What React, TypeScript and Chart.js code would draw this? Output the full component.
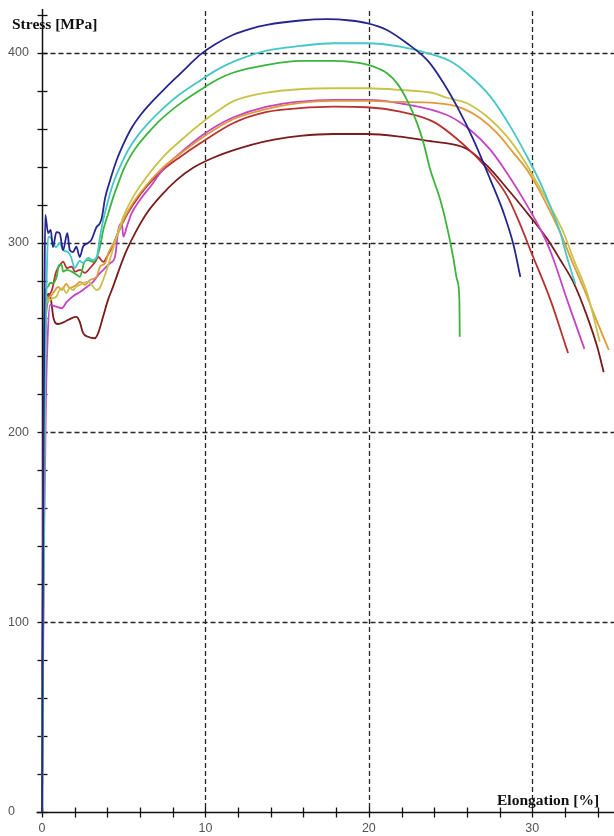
import React, { useEffect, useRef } from "react";
import { Chart, registerables } from "chart.js";
Chart.register(...registerables);

type P = [number, number];

// axis settings
const xTickLabels = [0, 10, 20, 30];
const yTickLabels = [0, 100, 200, 300, 400];
const xMinorStep = 2;
const yMinorStep = 20;
const xMax = 35;
const yMax = 422;
const xTitle = "Elongation [%]";
const yTitle = "Stress [MPa]";

// series: [elongation %, stress MPa]
const navy: P[] = [[0,0],[0.03,59],[0.09,190.7],[0.15,269.8],[0.2,314.6],[0.37,305],[0.53,306.7],[0.67,297.6],[0.88,305.5],[1.08,305],[1.29,296],[1.55,305],[1.7,296],[1.9,295],[2.1,297.8],[2.31,292.4],[2.51,297.8],[2.82,299.8],[3.02,301.4],[3.33,308.1],[3.53,310],[3.66,313],[3.86,323.4],[4.16,332.6],[4.57,343.5],[4.96,351.5],[5.49,360.5],[6.1,368],[6.71,374],[7.5,381],[8.22,387],[9.0,393.5],[9.68,399],[10.6,404.5],[11.7,409.5],[12.7,412.5],[13.76,414.7],[15.8,417],[17.43,417.7],[18.86,417],[19.88,415.6],[21.1,412],[22.33,405],[23.56,396.2],[24.37,386.7],[25.4,371.6],[26.41,354],[27.44,333],[28.25,315.5],[28.86,298.5],[29.27,281.9]];
const cyan: P[] = [[0,0],[0.06,85.4],[0.15,190.7],[0.24,259.2],[0.29,281.9],[0.37,303],[0.55,302.5],[0.67,299.8],[0.86,297.6],[1.08,299.8],[1.29,296],[1.59,295],[1.78,292.4],[2.0,286.6],[2.31,290.3],[2.51,289.3],[2.82,291.9],[3.12,290.8],[3.35,292.4],[3.55,303],[3.75,312],[4.06,322.6],[4.37,331.5],[4.78,340],[5.29,349],[5.8,355.7],[6.41,362],[7.2,369],[8.33,377.5],[9.68,385.4],[10.7,391],[11.72,395.3],[13.76,401.1],[15.8,403.6],[17.84,405],[19.88,405],[21.92,403.2],[23.96,398.9],[24.99,395.5],[26.0,389.2],[27.44,376.9],[28.66,361.1],[29.68,345.3],[30.5,331.3],[31.11,318.9],[31.72,305],[32.1,293],[32.64,278]];
const green: P[] = [[0,0],[0.06,85.4],[0.12,190.7],[0.17,271.5],[0.37,276.8],[0.49,278.7],[0.67,278.7],[0.9,282],[1.04,288.2],[1.21,288.2],[1.29,284.7],[1.51,285.6],[1.82,284.7],[2.13,283],[2.31,282],[2.61,290],[2.82,290.8],[3.12,289.8],[3.37,292.6],[3.55,297.9],[3.75,306.7],[4.06,315.5],[4.37,324.2],[4.67,331.3],[4.98,338.3],[5.39,345.3],[5.9,351.8],[6.41,357],[7.23,364.5],[8.57,374],[9.68,380.4],[10.7,385.8],[11.72,389.6],[13.76,393.6],[15.8,395.7],[17.84,395.7],[19.27,394.8],[20.29,392.7],[21.11,389.2],[21.72,384],[22.33,375.2],[22.95,362.9],[23.35,352.3],[23.76,338.3],[24.37,322.5],[24.78,308.4],[25.19,290.8],[25.4,280.3],[25.54,269.8],[25.56,250.4]];
const yellow: P[] = [[0,0],[0.06,85.4],[0.15,190.7],[0.21,254],[0.26,268],[0.47,269.8],[0.67,270.7],[0.88,271.5],[1.08,275],[1.29,276],[1.49,273.3],[1.7,276],[1.9,275],[2.1,276.8],[2.31,277.7],[2.51,278.6],[2.82,279.4],[3.12,276.8],[3.33,275],[3.53,276],[3.74,280.3],[3.96,285.6],[4.27,294.4],[4.57,303.1],[4.98,313.7],[5.59,324.2],[6.41,334.7],[7.43,345.3],[8.45,353.5],[9.68,362.5],[10.7,369],[11.72,374.5],[13.76,379],[15.8,380.8],[17.84,381.3],[19.88,381.3],[21.92,380.4],[23.96,378.7],[24.78,376.3],[26.0,373.4],[27.23,366.4],[28.46,355.8],[29.48,343.5],[30.3,331.3],[31.11,318.9],[31.93,304.9],[32.54,290.9],[33.36,273.3],[34.13,247.8]];
const orange: P[] = [[0,0],[0.06,85.4],[0.12,174.9],[0.18,227.6],[0.24,259.2],[0.34,269.8],[0.49,271.4],[0.73,274],[0.98,276.6],[1.22,275],[1.47,278.2],[1.71,276.1],[2.02,277.2],[2.33,279.3],[2.63,277.7],[2.94,280.3],[3.35,282.1],[3.55,287.3],[3.86,289.1],[4.06,294.4],[4.37,299.6],[4.67,304.9],[4.98,311.9],[5.57,321],[6.43,330.6],[7.41,339.6],[8.45,346.7],[9.68,354.6],[11.72,365.1],[13.76,370.4],[15.8,373.6],[17.84,374.6],[19.88,374.6],[21.92,374.1],[23.96,373.6],[24.99,372.5],[25.8,370.4],[26.82,365.5],[27.85,357.6],[28.86,347.1],[29.68,338.3],[30.3,329.5],[30.99,318.2],[31.72,305.1],[32.4,290.8],[33.19,275],[33.87,260.3],[34.68,243.4]];
const magenta: P[] = [[0,0],[0.12,138],[0.24,217.1],[0.34,248.7],[0.49,267.1],[0.9,266.2],[1.21,265.4],[1.51,268.7],[1.92,271.9],[2.33,274],[2.74,276.6],[3.14,279.4],[3.45,283],[3.75,285.6],[4.16,289.1],[4.47,292.6],[4.67,306.7],[4.88,310.2],[4.98,303.1],[5.19,308.4],[5.49,315.5],[6.0,322.6],[6.72,330.5],[7.43,339],[8.45,347.1],[9.68,355.7],[10.7,361.5],[11.72,366],[13.76,371.6],[15.8,374.3],[17.84,375.2],[19.88,375.2],[21.92,373.4],[24.78,367.2],[26.21,359.3],[27.44,348.8],[28.46,336.5],[29.48,322.5],[30.3,310.2],[30.91,299.6],[31.31,290.8],[32.13,269.8],[33.19,244]];
const red: P[] = [[0,0],[0.06,111.7],[0.12,206.5],[0.21,254],[0.37,269.8],[0.61,275],[0.86,284.5],[1.1,288.2],[1.3,290],[1.51,286.6],[1.82,287.3],[2.02,284.7],[2.33,285.6],[2.63,284],[2.94,286.6],[3.25,289.8],[3.45,292.4],[3.74,289.8],[4.04,293.5],[4.35,298.8],[4.65,305.2],[5.02,311.9],[5.57,319.9],[6.43,329.8],[7.41,338.3],[8.45,345.1],[9.68,352.3],[11.72,363],[13.76,368.8],[15.8,370.8],[17.84,371.6],[19.88,371.3],[21.92,369],[23.96,363.6],[26.0,350],[27.23,339],[28.46,324.6],[29.27,309.3],[29.88,296.1],[31.11,269.8],[32.19,241.8]];
const brown: P[] = [[0,0],[0.04,111.7],[0.09,217],[0.15,259.2],[0.24,269.8],[0.4,272.9],[0.55,269.8],[0.7,260.3],[0.98,257.1],[1.39,258.3],[1.79,260.1],[2.1,260.8],[2.31,258.2],[2.51,252.4],[2.82,250.4],[3.23,249.6],[3.43,252.2],[3.74,261],[4.04,269.8],[4.35,276.8],[4.78,287.2],[5.19,296.1],[5.8,306.7],[6.41,315.5],[7.23,324.2],[8.25,333],[9.27,339.5],[10.3,344],[11.5,348],[12.8,351.5],[14.2,354.2],[15.8,356.2],[17.84,357.2],[19.88,357.2],[21.92,355.8],[23.96,353.2],[24.99,352],[26.0,349.3],[27.23,340.5],[28.46,328.5],[29.93,313],[30.91,302],[31.72,290.8],[32.54,278.6],[33.36,261],[33.97,245.2],[34.37,231.7]];

const seriesList = [
  { data: navy, color: "#25258f" },
  { data: cyan, color: "#46c6c6" },
  { data: green, color: "#3cb43c" },
  { data: yellow, color: "#c9c24a" },
  { data: orange, color: "#e09a3a" },
  { data: magenta, color: "#c444c4" },
  { data: red, color: "#b83030" },
  { data: brown, color: "#7a1c1c" },
];

const numFont = "12.5px 'Liberation Sans', Arial, sans-serif";
const titleFont = "bold 15.5px 'Liberation Serif', 'Times New Roman', serif";

const decor = {
  id: "decor",
  beforeDatasetsDraw(chart: any) {
    const { ctx, chartArea: a } = chart;
    const xs = chart.scales.x;
    const ys = chart.scales.y;
    const x0 = Math.round(xs.getPixelForValue(0)) + 0.5;
    const y0 = Math.round(ys.getPixelForValue(0)) + 0.5;
    ctx.save();
    ctx.strokeStyle = "#262626";
    ctx.lineWidth = 1.3;
    ctx.setLineDash([5, 3]);
    for (const v of xTickLabels) {
      if (v <= 0) continue;
      const p = Math.round(xs.getPixelForValue(v)) + 0.5;
      ctx.beginPath();
      ctx.moveTo(p, a.top);
      ctx.lineTo(p, y0);
      ctx.stroke();
    }
    for (const v of yTickLabels) {
      if (v <= 0) continue;
      const p = Math.round(ys.getPixelForValue(v)) + 0.5;
      ctx.beginPath();
      ctx.moveTo(x0, p);
      ctx.lineTo(a.right, p);
      ctx.stroke();
    }
    ctx.setLineDash([]);
    ctx.strokeStyle = "#111";
    ctx.lineWidth = 1.5;
    ctx.beginPath();
    ctx.moveTo(x0 - 6, y0);
    ctx.lineTo(a.right, y0);
    ctx.moveTo(x0, y0);
    ctx.lineTo(x0, a.top - 2);
    ctx.stroke();
    ctx.lineWidth = 1.3;
    for (let v = 0; v <= xMax + 1e-6; v += xMinorStep) {
      const p = Math.round(xs.getPixelForValue(v)) + 0.5;
      ctx.beginPath();
      ctx.moveTo(p, y0 - 5);
      ctx.lineTo(p, y0 + 5);
      ctx.stroke();
    }
    for (let v = 0; v <= yMax + 1e-6; v += yMinorStep) {
      const p = Math.round(ys.getPixelForValue(v)) + 0.5;
      ctx.beginPath();
      ctx.moveTo(x0 - 5, p);
      ctx.lineTo(x0 + 5, p);
      ctx.stroke();
    }
    ctx.restore();
  },
  afterDraw(chart: any) {
    const { ctx } = chart;
    const xs = chart.scales.x;
    const ys = chart.scales.y;
    const y0 = ys.getPixelForValue(0);
    ctx.save();
    ctx.font = numFont;
    ctx.fillStyle = "#555";
    ctx.textBaseline = "middle";
    ctx.textAlign = "left";
    for (const v of yTickLabels) {
      ctx.fillText(String(v), 8, ys.getPixelForValue(v));
    }
    ctx.textAlign = "center";
    for (const v of xTickLabels) {
      ctx.fillText(String(v), xs.getPixelForValue(v), y0 + 17);
    }
    ctx.font = titleFont;
    ctx.fillStyle = "#111";
    ctx.textAlign = "left";
    ctx.fillText(yTitle, 12, 25);
    ctx.fillText(xTitle, 497, y0 - 11);
    ctx.restore();
  },
};

export default function App() {
  const ref = useRef<HTMLCanvasElement | null>(null);
  useEffect(() => {
    if (!ref.current) return;
    const chart = new Chart(ref.current, {
      type: "scatter",
      data: {
        datasets: seriesList.map((s) => ({
          data: s.data.map(([x, y]) => ({ x, y })),
          borderColor: s.color,
          backgroundColor: s.color,
          borderWidth: 1.8,
          showLine: true,
          pointRadius: 0,
          cubicInterpolationMode: "monotone" as const,
          clip: 6,
        })),
      },
      options: {
        responsive: false,
        animation: false,
        layout: { padding: { top: 11, right: 0, left: 0, bottom: 0 } },
        plugins: { legend: { display: false }, tooltip: { enabled: false } },
        events: [],
        scales: {
          x: {
            type: "linear",
            min: 0,
            max: xMax,
            grid: { display: false },
            border: { display: false },
            ticks: { display: false },
            afterFit: (s: any) => {
              s.height = 24;
            },
          },
          y: {
            type: "linear",
            min: 0,
            max: yMax,
            grid: { display: false },
            border: { display: false },
            ticks: { display: false },
            afterFit: (s: any) => {
              s.width = 42;
            },
          },
        },
      },
      plugins: [decor],
    });
    return () => chart.destroy();
  }, []);
  return (
    <div style={{ position: "fixed", left: 0, top: 0, width: 614, height: 836, background: "#fff" }}>
      <canvas ref={ref} width={614} height={836} style={{ display: "block" }} />
    </div>
  );
}
